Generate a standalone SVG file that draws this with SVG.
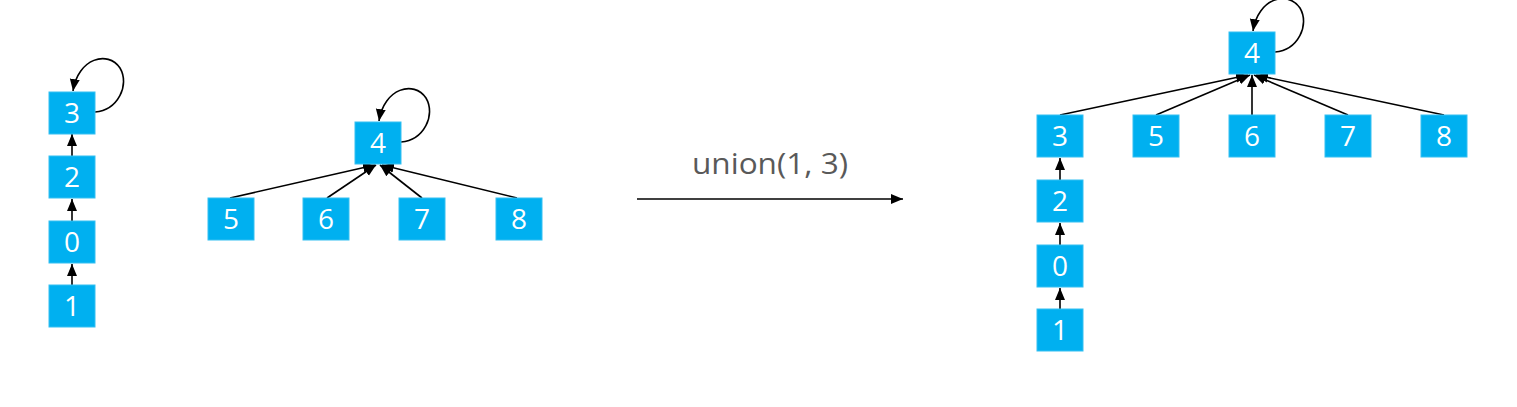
<svg xmlns="http://www.w3.org/2000/svg" width="1517" height="407" viewBox="0 0 1517 407">
<style>
.box rect{fill:#00B0F0;stroke:#35C0F2;stroke-width:1}
.box text{fill:#FFFFFF;font-family:"Open Sans","Liberation Sans",sans-serif;font-size:28px;text-anchor:middle}
.edge{fill:none;stroke:#000000;stroke-width:1.6;marker-end:url(#ah)}
.lbl{fill:#595959;font-family:"Open Sans","Liberation Sans",sans-serif;font-size:30px;text-anchor:middle}
</style>
<defs>
<marker id="ah" markerUnits="userSpaceOnUse" markerWidth="13" markerHeight="13" viewBox="0 0 13 13" refX="12" refY="6.5" orient="auto">
<path d="M0,1.5 L12,6.5 L0,11.5 Z" fill="#000000"/>
</marker>
</defs>
<rect width="1517" height="407" fill="#FFFFFF"/>
<g id="connectors">
<path class="edge" d="M95,112 C118,110 130,85 120,68 C108,50 78,58 73,91"/>
<line class="edge" x1="72" y1="156" x2="72" y2="134"/>
<line class="edge" x1="72" y1="221" x2="72" y2="199"/>
<line class="edge" x1="72" y1="285" x2="72" y2="264"/>
<path class="edge" d="M401,142 C424,140 436,115 426,98 C414,80 384,88 379,121"/>
<line class="edge" x1="230" y1="198" x2="375" y2="165"/>
<line class="edge" x1="327" y1="198" x2="376" y2="165"/>
<line class="edge" x1="422" y1="198" x2="380" y2="165"/>
<line class="edge" x1="517" y1="198" x2="382" y2="165"/>
<line class="edge" x1="637" y1="199" x2="903" y2="199"/>
<path class="edge" d="M1275,52 C1298,50 1310,25 1300,8 C1288,-10 1258,-2 1253,31"/>
<line class="edge" x1="1060" y1="115" x2="1248" y2="75"/>
<line class="edge" x1="1156" y1="115" x2="1250" y2="75"/>
<line class="edge" x1="1252" y1="115" x2="1252" y2="75"/>
<line class="edge" x1="1348" y1="115" x2="1254" y2="75"/>
<line class="edge" x1="1444" y1="115" x2="1256" y2="75"/>
<line class="edge" x1="1060" y1="180" x2="1060" y2="158"/>
<line class="edge" x1="1060" y1="245" x2="1060" y2="223"/>
<line class="edge" x1="1060" y1="309" x2="1060" y2="288"/>
</g>
<text class="lbl" x="770" y="174" textLength="156" lengthAdjust="spacingAndGlyphs">union(1, 3)</text>
<g id="nL3" class="box"><rect x="49" y="92" width="46" height="42"/><text x="72" y="123">3</text></g>
<g id="nL2" class="box"><rect x="49" y="156" width="46" height="42"/><text x="72" y="187">2</text></g>
<g id="nL0" class="box"><rect x="49" y="221" width="46" height="42"/><text x="72" y="252">0</text></g>
<g id="nL1" class="box"><rect x="49" y="285" width="46" height="42"/><text x="72" y="316">1</text></g>
<g id="nL4" class="box"><rect x="355" y="122" width="46" height="42"/><text x="378" y="153">4</text></g>
<g id="nL5" class="box"><rect x="208" y="198" width="46" height="42"/><text x="231" y="229">5</text></g>
<g id="nL6" class="box"><rect x="303" y="198" width="46" height="42"/><text x="326" y="229">6</text></g>
<g id="nL7" class="box"><rect x="399" y="198" width="46" height="42"/><text x="422" y="229">7</text></g>
<g id="nL8" class="box"><rect x="496" y="198" width="46" height="42"/><text x="519" y="229">8</text></g>
<g id="nR4" class="box"><rect x="1229" y="32" width="46" height="42"/><text x="1252" y="63">4</text></g>
<g id="nR3" class="box"><rect x="1037" y="115" width="46" height="42"/><text x="1060" y="146">3</text></g>
<g id="nR5" class="box"><rect x="1133" y="115" width="46" height="42"/><text x="1156" y="146">5</text></g>
<g id="nR6" class="box"><rect x="1229" y="115" width="46" height="42"/><text x="1252" y="146">6</text></g>
<g id="nR7" class="box"><rect x="1325" y="115" width="46" height="42"/><text x="1348" y="146">7</text></g>
<g id="nR8" class="box"><rect x="1421" y="115" width="46" height="42"/><text x="1444" y="146">8</text></g>
<g id="nR2" class="box"><rect x="1037" y="180" width="46" height="42"/><text x="1060" y="211">2</text></g>
<g id="nR0" class="box"><rect x="1037" y="245" width="46" height="42"/><text x="1060" y="276">0</text></g>
<g id="nR1" class="box"><rect x="1037" y="309" width="46" height="42"/><text x="1060" y="340">1</text></g>
</svg>
